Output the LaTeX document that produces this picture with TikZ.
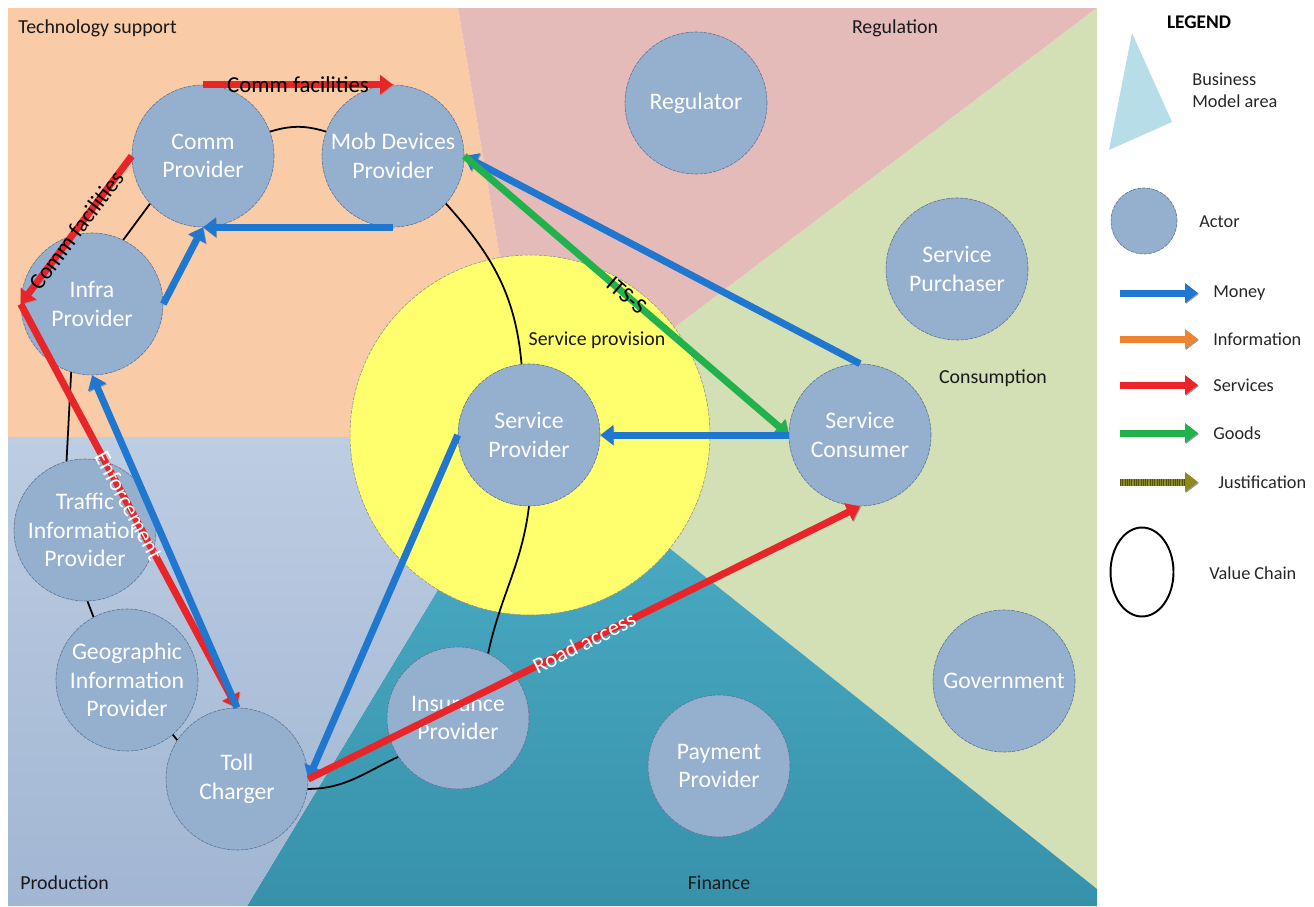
\documentclass[tikz,border=0pt]{standalone}
\usepackage{fontspec}
\setmainfont{Carlito}
\usetikzlibrary{arrows.meta,shapes.geometric}

\definecolor{techfill}{HTML}{F9CBA6}
\definecolor{regfill}{HTML}{E5BBBA}
\definecolor{consfill}{HTML}{D3DFB4}
\definecolor{fintop}{HTML}{4DB0C8}
\definecolor{finbot}{HTML}{3791AA}
\definecolor{prodtop}{HTML}{BDCDE2}
\definecolor{prodbot}{HTML}{A1B6D3}
\definecolor{provyellow}{HTML}{FFFF6E}
\definecolor{actorfill}{HTML}{95AFCF}
\definecolor{actoredge}{HTML}{5F7594}
\definecolor{bmafill}{HTML}{B7DDE8}
\definecolor{moneyc}{HTML}{1F77CF}
\definecolor{infoc}{HTML}{ED8432}
\definecolor{servc}{HTML}{E8262A}
\definecolor{goodsc}{HTML}{21B24D}
\definecolor{justc}{HTML}{8E8B1E}
\definecolor{justdark}{HTML}{55520E}

\begin{document}
\begin{tikzpicture}[x=0.02cm, y=-0.02cm,
  actor/.style={circle, fill=actorfill, draw=actoredge, line width=0.35pt,
    dash pattern=on 2pt off 0.6pt, minimum size=2.84cm, inner sep=0pt,
    align=center, text=white, font=\fontsize{13.5}{16.3}\selectfont},
  area/.style={font=\fontsize{11.3}{13.5}\selectfont, text=black!90, inner sep=0pt},
  legtext/.style={font=\fontsize{10.4}{12.4}\selectfont, text=black!85, anchor=west, inner sep=0pt, align=left},
  flow/.style={line width=0.14cm, -{Triangle[length=0.26cm,width=0.38cm]},
    preaction={draw=black!40, transform canvas={shift={(0.5pt,-0.6pt)}}}},
  money/.style={flow, draw=moneyc},
  info/.style={flow, draw=infoc},
  service/.style={flow, draw=servc},
  goods/.style={flow, draw=goodsc},
  chain/.style={draw=black, line width=1pt},
  flowlabel/.style={font=\fontsize{13}{15}\selectfont, inner sep=0pt, sloped}
]
\useasboundingbox (0,0) rectangle (1314,906);

% ---- business model areas ----
\coordinate (hub) at (530,437);
\fill[techfill] (8,8) -- (458,8) -- (hub) -- (8,437) -- cycle;
\fill[regfill] (458,8) -- (1097,8) -- (hub) -- cycle;
\fill[consfill] (1097,8) -- (1097,889) -- (hub) -- cycle;
\shade[top color=fintop, bottom color=finbot] (hub) -- (1097,889) -- (1097,906) -- (247,906) -- cycle;
\shade[top color=prodtop, bottom color=prodbot] (8,437) -- (hub) -- (247,906) -- (8,906) -- cycle;

% ---- service provision area ----
\node[circle, fill=provyellow, draw=black!45, line width=0.3pt, dash pattern=on 2pt off 0.7pt,
      minimum size=7.2cm, inner sep=0pt] (provision) at (530,435) {};

% ---- area labels ----
\node[area, anchor=base west] (lbltech) at (18,33) {Technology support};
\node[area, anchor=base] (lblreg) at (895,33) {Regulation};
\node[area, anchor=base] (lblcons) at (993,383) {Consumption};
\node[area, anchor=base west] (lblprod) at (20,889) {Production};
\node[area, anchor=base] (lblfin) at (719,889) {Finance};
\node[area] (lblprov) at (597,340) {Service provision};

% ---- actors ----
\node[actor] (comm) at (203,156) {Comm\\Provider};
\node[actor] (mob) at (393,156) {Mob Devices\\Provider};
\node[actor] (infra) at (92,304) {Infra\\Provider};
\node[actor] (reg) at (696,103) {Regulator};
\node[actor] (purch) at (957,269) {Service\\Purchaser};
\node[actor] (sp) at (529,435) {Service\\Provider};
\node[actor] (cons) at (860,435) {Service\\Consumer};
\node[actor] (traffic) at (85,530) {Traffic\\Information\\Provider};
\node[actor] (geo) at (127,680) {Geographic\\Information\\Provider};
\node[actor] (toll) at (237,779) {Toll\\Charger};
\node[actor] (ins) at (458,718) {Insurance\\Provider};
\node[actor] (pay) at (719,766) {Payment\\Provider};
\node[actor] (gov) at (1004,681) {Government};

% ---- value chain (drawn between the actors) ----
\draw[chain] (comm.20) to[bend left=17] (mob.160);
\draw[chain] (mob.-42) to[out=-48, in=95] (sp.96);
\draw[chain] (sp.-90) to[out=-97, in=78] (ins.65);
\draw[chain] (ins.213) to[out=205, in=0] (toll.-8);
\draw[chain] (toll.147) -- (geo.-50);
\draw[chain] (geo.118) -- (traffic.-88);
\draw[chain] (traffic.105) -- (infra.253);
\draw[chain] (infra.64) -- (comm.222);

% ---- flows ----
\draw[service] (comm.north) -- node[flowlabel] {Comm facilities} (mob.north);
\draw[service] (comm.west) -- node[flowlabel] {Comm facilities} (infra.west);
\draw[money] (mob.south) -- (comm.south);
\draw[money] (infra.east) -- (comm.south);
\draw[money] (cons.north) -- (mob.east);
\draw[goods] (mob.east) -- node[flowlabel] {ITS-S} (cons.west);
\draw[money] (cons.west) -- (sp.east);
\draw[money] (sp.west) -- (toll.east);
\draw[service] (toll.east) -- node[flowlabel, text=white] {Road access} (cons.south);
\draw[service] (infra.west) -- node[flowlabel, text=white] {Enforcement} (toll.north);
\draw[money] (toll.north) -- (infra.south);

% ---- legend ----
\node[font=\fontsize{11}{13}\selectfont\bfseries, inner sep=0pt] (legtitle) at (1199,22) {LEGEND};
\fill[bmafill] (1132,33) -- (1172,122) -- (1109,150) -- cycle;
\node[legtext] (legbma) at (1192,90) {Business\\Model area};

\node[actor, minimum size=1.32cm] (legactor) at (1144,221) {};
\node[legtext] (legactortxt) at (1199,222) {Actor};

\coordinate (lma) at (1120,293); \coordinate (lmb) at (1198,293);
\coordinate (lia) at (1120,339); \coordinate (lib) at (1198,339);
\coordinate (lsa) at (1120,385); \coordinate (lsb) at (1198,385);
\coordinate (lga) at (1120,433); \coordinate (lgb) at (1198,433);
\coordinate (lja) at (1120,482); \coordinate (ljb) at (1198,482); \coordinate (ljc) at (1186,482);

\draw[money] (lma) -- (lmb);
\draw[info] (lia) -- (lib);
\draw[service] (lsa) -- (lsb);
\draw[goods] (lga) -- (lgb);
\draw[flow, draw=justc] (lja) -- (ljb);
\draw[line width=0.14cm, draw=justdark, dash pattern=on 0.55pt off 0.75pt] (lja) -- (ljc);

\node[legtext] (legmoney) at (1213,293) {Money};
\node[legtext] (leginfo) at (1213,339) {Information};
\node[legtext] (legserv) at (1213,385) {Services};
\node[legtext] (leggoods) at (1213,433) {Goods};
\node[legtext] (legjust) at (1218,482) {Justification};

\node[ellipse, draw=black, line width=1.1pt, minimum width=1.26cm, minimum height=1.78cm,
      inner sep=0pt] (legchain) at (1142,572) {};
\node[legtext] (legchaintxt) at (1209,573) {Value Chain};
\end{tikzpicture}
\end{document}
